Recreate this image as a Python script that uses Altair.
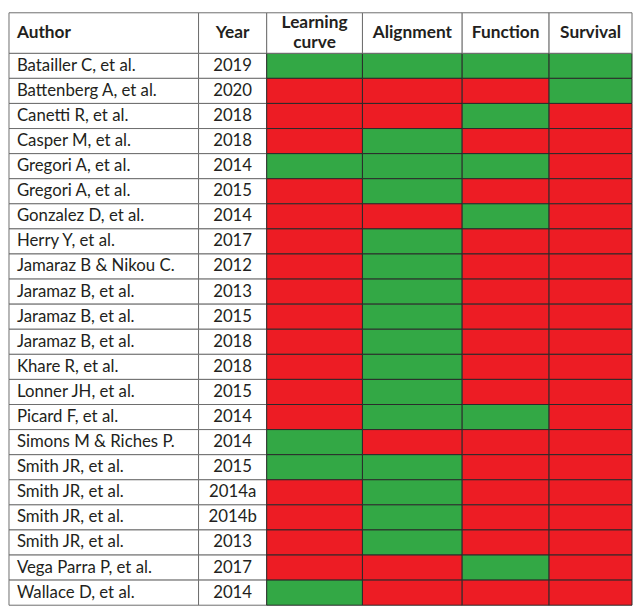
import altair as alt
import pandas as pd

authors = [
    "Batailler C, et al.", "Battenberg A, et al.", "Canetti R, et al.", "Casper M, et al.",
    "Gregori A, et al.", "Gregori A, et al.", "Gonzalez D, et al.", "Herry Y, et al.",
    "Jamaraz B & Nikou C.", "Jaramaz B, et al.", "Jaramaz B, et al.", "Jaramaz B, et al.",
    "Khare R, et al.", "Lonner JH, et al.", "Picard F, et al.", "Simons M & Riches P.",
    "Smith JR, et al.", "Smith JR, et al.", "Smith JR, et al.", "Smith JR, et al.",
    "Vega Parra P, et al.", "Wallace D, et al.",
]
years = [
    "2019", "2020", "2018", "2018", "2014", "2015", "2014", "2017", "2012", "2013", "2015",
    "2018", "2018", "2015", "2014", "2014", "2015", "2014a", "2014b", "2013", "2017", "2014",
]
learning_curve = ["Yes", "No", "No", "No", "Yes", "No", "No", "No", "No", "No", "No",
                  "No", "No", "No", "No", "Yes", "Yes", "No", "No", "No", "No", "Yes"]
alignment = ["Yes", "No", "No", "Yes", "Yes", "Yes", "No", "Yes", "Yes", "Yes", "Yes",
             "Yes", "Yes", "Yes", "Yes", "No", "Yes", "Yes", "Yes", "Yes", "No", "No"]
function = ["Yes", "No", "Yes", "No", "Yes", "No", "Yes", "No", "No", "No", "No",
            "No", "No", "No", "Yes", "No", "No", "No", "No", "No", "Yes", "No"]
survival = ["Yes", "Yes", "No", "No", "No", "No", "No", "No", "No", "No", "No",
            "No", "No", "No", "No", "No", "No", "No", "No", "No", "No", "No"]

headers = ["Author", "Year", "Learning\ncurve", "Alignment", "Function", "Survival"]

GREEN = "#33A845"
RED = "#ED1C24"
TEXT = "#231F20"
FONT = "Lato"
col_widths = [192, 69, 97, 101, 88, 84]
HEADER_H = 41
TOTAL_H = 600
LINE_H = 20

df = pd.DataFrame({
    "row": list(range(len(authors))),
    "author": authors,
    "year": years,
    "learning": learning_curve,
    "alignment": alignment,
    "function": function,
    "survival": survival,
})

y_scale = alt.Scale(range=[HEADER_H, TOTAL_H], paddingInner=0, paddingOuter=0)
Y = alt.Y("row:O", axis=None, scale=y_scale)


def header_layers(label, w, align):
    hdf = pd.DataFrame({"label": [label]})
    base = alt.Chart(hdf)
    rect = base.mark_rect(fill="white", stroke="#6d6d6d", strokeWidth=1).encode(
        x=alt.value(0), x2=alt.value(w), y=alt.value(0), y2=alt.value(HEADER_H)
    )
    tx = 8 if align == "left" else w / 2
    n = label.count("\n") + 1
    ty = HEADER_H / 2 - (n - 1) * LINE_H / 2
    text = base.mark_text(
        font=FONT, fontSize=17.5, fontWeight="bold", align=align, baseline="middle",
        lineBreak="\n", lineHeight=LINE_H, color=TEXT,
    ).encode(x=alt.value(tx), y=alt.value(ty), text="label:N")
    return [rect, text]


def text_body(field, w, align):
    base = alt.Chart(df)
    rect = base.mark_rect(fill="white", stroke="#6d6d6d", strokeWidth=1).encode(
        x=alt.value(0), x2=alt.value(w), y=Y
    )
    tx = 8 if align == "left" else w / 2
    text = base.mark_text(
        font=FONT, fontSize=17, align=align, baseline="middle", color=TEXT
    ).encode(x=alt.value(tx), y=Y, text=f"{field}:N")
    return [rect, text]


def color_body(field, w):
    return [alt.Chart(df).mark_rect(stroke="#2b2b2b", strokeWidth=1).encode(
        x=alt.value(0), x2=alt.value(w), y=Y,
        color=alt.Color(f"{field}:N", scale=alt.Scale(domain=["Yes", "No"], range=[GREEN, RED]), legend=None),
    )]


bodies = [
    text_body("author", col_widths[0], "left"),
    text_body("year", col_widths[1], "center"),
    color_body("learning", col_widths[2]),
    color_body("alignment", col_widths[3]),
    color_body("function", col_widths[4]),
    color_body("survival", col_widths[5]),
]
aligns = ["left", "center", "center", "center", "center", "center"]

columns = [
    alt.layer(*b, *header_layers(h, w, a)).properties(width=w, height=TOTAL_H)
    for h, w, a, b in zip(headers, col_widths, aligns, bodies)
]

chart = alt.hconcat(*columns, spacing=0, bounds="flush").properties(padding=0).configure_view(stroke=None)

chart.save("out.html", embed_options={"renderer": "svg", "actions": False})
